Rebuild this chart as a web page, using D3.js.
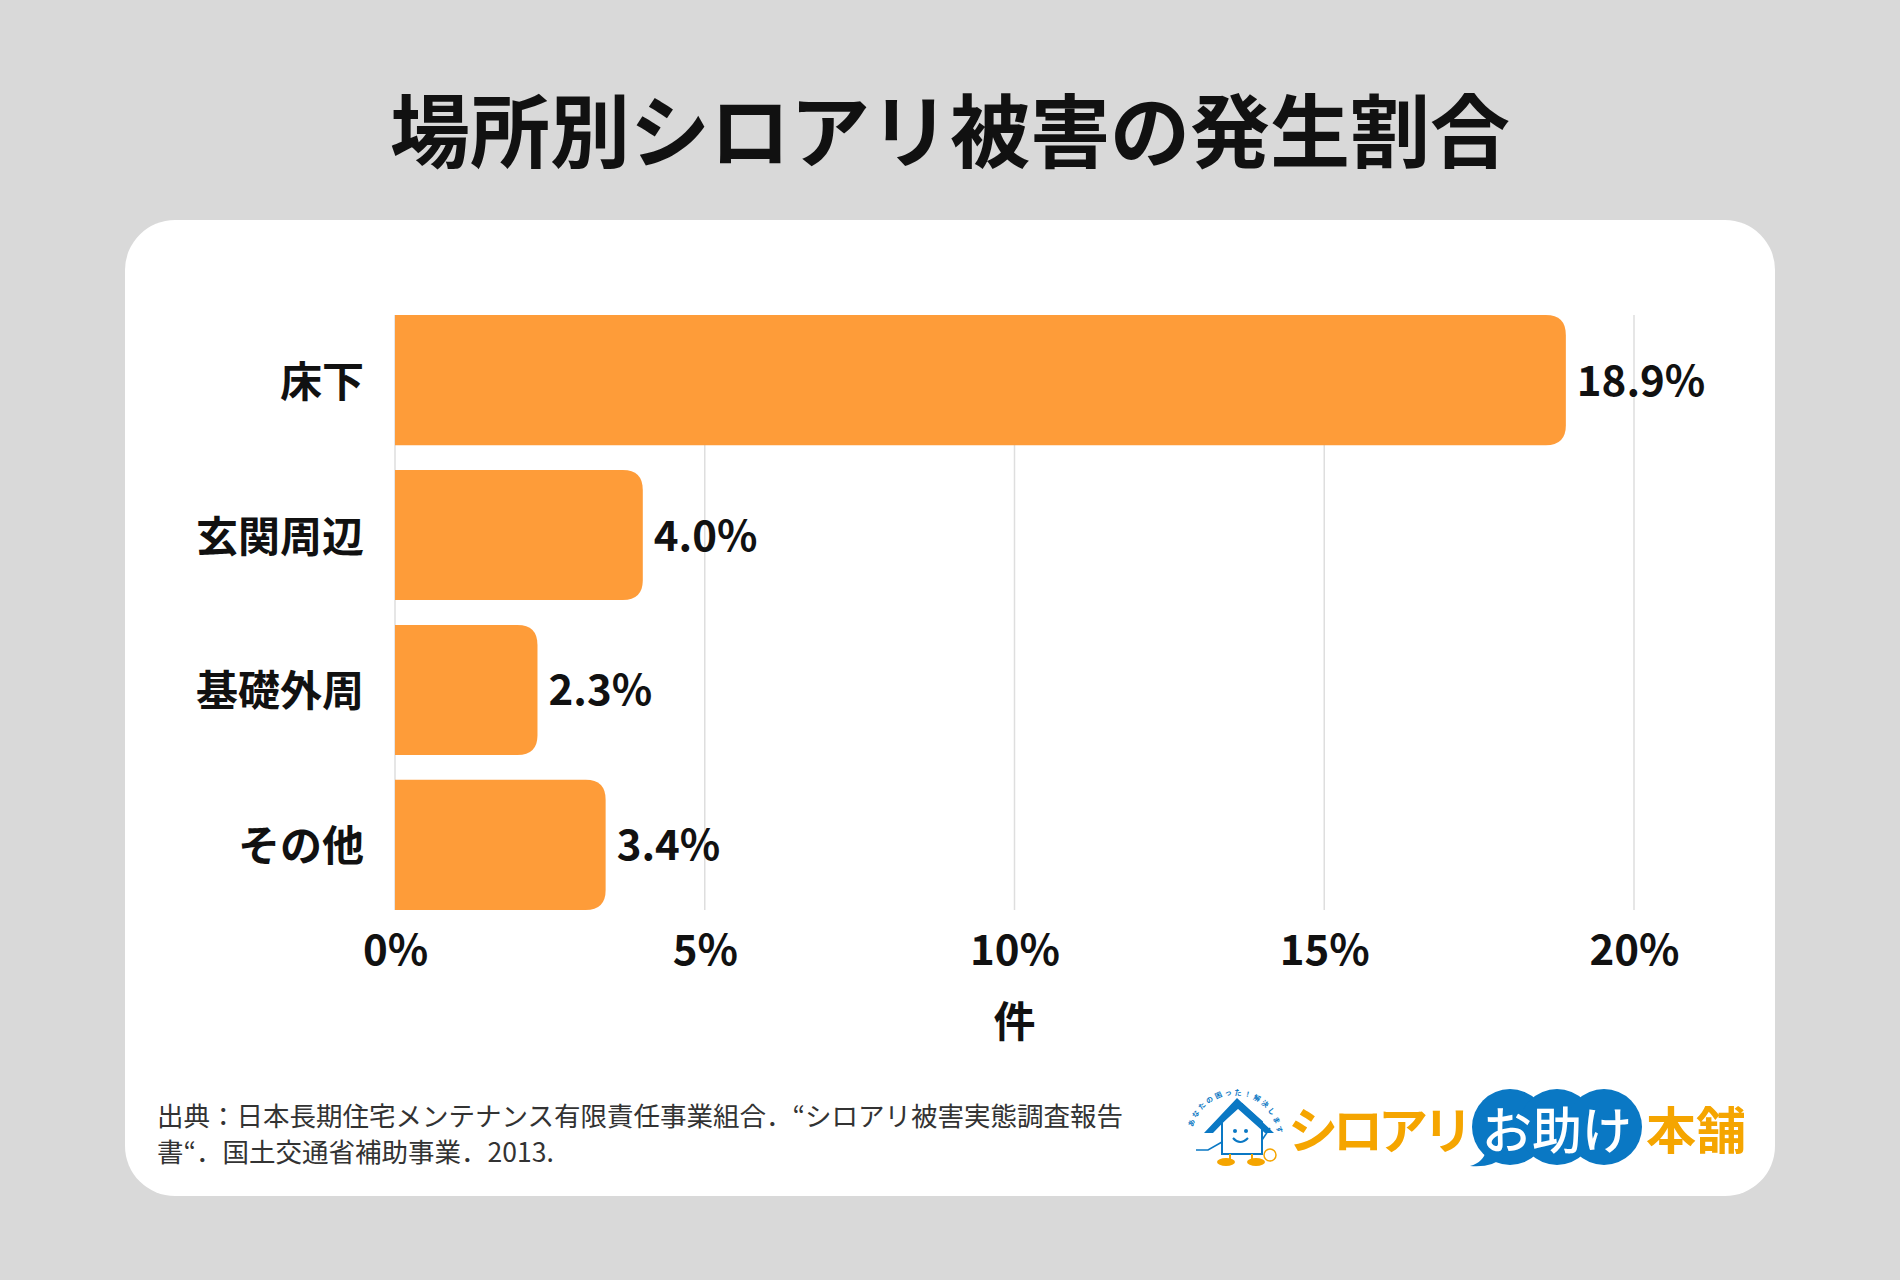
<!DOCTYPE html>
<html>
<head>
<meta charset="utf-8">
<script src="https://cdn.jsdelivr.net/npm/d3@7"></script>
<style>
  html, body { margin: 0; padding: 0; background: #d9d9d9; }
  svg { display: block; }
  text { font-family: "Noto Sans CJK JP", "Noto Sans", sans-serif; }
</style>
</head>
<body>
<div id="chart"></div>
<script>
// chart data
var categories = ["床下", "玄関周辺", "基礎外周", "その他"];
var values = [18.9, 4.0, 2.3, 3.4];
var tickValues = [0, 5, 10, 15, 20];
var titleText = "場所別シロアリ被害の発生割合";
var axisTitle = "件";
var sourceLines = [
    "出典：日本長期住宅メンテナンス有限責任事業組合．“シロアリ被害実態調査報告",
    "書“．国土交通省補助事業．2013."
];

var W = 1900, H = 1280;
var barColor = "#fe9c39";
var fontJP = "'Noto Sans CJK JP', 'Noto Sans', sans-serif";

var svg = d3.select("#chart").append("svg")
    .attr("width", W)
    .attr("height", H);

// background and white card
svg.append("rect").attr("width", W).attr("height", H).attr("fill", "#d9d9d9");
svg.append("rect")
    .attr("x", 125).attr("y", 220)
    .attr("width", 1650).attr("height", 976)
    .attr("rx", 50).attr("ry", 50)
    .attr("fill", "#ffffff");

// title
svg.append("text")
    .attr("x", 950).attr("y", 126)
    .attr("text-anchor", "middle")
    .attr("dominant-baseline", "central")
    .attr("font-size", 80)
    .attr("font-weight", 700)
    .attr("fill", "#111")
    .text(titleText);

// scales
var x = d3.scaleLinear().domain([0, 20]).range([395, 1634]);
var y = d3.scaleBand().domain(categories).range([315, 910]).paddingInner(0.16).paddingOuter(0);

// grid lines
svg.append("g").selectAll("line")
    .data(tickValues)
    .enter().append("line")
    .attr("x1", function(d) { return x(d); })
    .attr("x2", function(d) { return x(d); })
    .attr("y1", 315).attr("y2", 910)
    .attr("stroke", "#dedede")
    .attr("stroke-width", 1.5);

// bars with rounded right corners
function barPath(x0, y0, w, h, r) {
    r = Math.min(r, w, h / 2);
    return "M" + x0 + "," + y0 +
        "H" + (x0 + w - r) +
        "Q" + (x0 + w) + "," + y0 + " " + (x0 + w) + "," + (y0 + r) +
        "V" + (y0 + h - r) +
        "Q" + (x0 + w) + "," + (y0 + h) + " " + (x0 + w - r) + "," + (y0 + h) +
        "H" + x0 + "Z";
}

var rows = categories.map(function(c, i) { return {cat: c, val: values[i]}; });

svg.append("g").selectAll("path")
    .data(rows)
    .enter().append("path")
    .attr("d", function(d) {
        return barPath(x(0), y(d.cat), x(d.val) - x(0), y.bandwidth(), 20);
    })
    .attr("fill", barColor);

// value labels
svg.append("g").selectAll("text")
    .data(rows)
    .enter().append("text")
    .attr("x", function(d) { return x(d.val) + 11; })
    .attr("y", function(d) { return y(d.cat) + y.bandwidth() / 2 - 3; })
    .attr("dominant-baseline", "central")
    .attr("font-size", 42)
    .attr("font-weight", 700)
    .attr("fill", "#111")
    .text(function(d) { return d.val.toFixed(1) + "%"; });

// category labels (y axis)
var yg = svg.append("g")
    .attr("transform", "translate(364,-2)")
    .call(d3.axisLeft(y).tickSize(0).tickPadding(0))
    .attr("font-family", fontJP)
    .attr("font-size", 42);
yg.select(".domain").remove();
yg.selectAll("text")
    .attr("dominant-baseline", "central")
    .attr("dy", null)
    .attr("font-weight", 700)
    .attr("fill", "#111");

// x axis tick labels
var xg = svg.append("g")
    .attr("transform", "translate(0,946)")
    .call(d3.axisBottom(x).tickValues(tickValues).tickSize(0).tickPadding(0)
        .tickFormat(function(d) { return d + "%"; }))
    .attr("font-family", fontJP)
    .attr("font-size", 42);
xg.select(".domain").remove();
xg.selectAll("text")
    .attr("dominant-baseline", "central")
    .attr("dy", null)
    .attr("y", 0)
    .attr("font-weight", 700)
    .attr("fill", "#111");

// x axis title
svg.append("text")
    .attr("x", (x(0) + x(20)) / 2).attr("y", 1018)
    .attr("text-anchor", "middle")
    .attr("dominant-baseline", "central")
    .attr("font-size", 42)
    .attr("font-weight", 700)
    .attr("fill", "#111")
    .text(axisTitle);

// source note
svg.append("g").selectAll("text")
    .data(sourceLines)
    .enter().append("text")
    .attr("x", 157)
    .attr("y", function(d, i) { return 1114 + i * 36; })
    .attr("dominant-baseline", "central")
    .attr("font-size", 26.5)
    .attr("font-weight", 400)
    .attr("fill", "#333")
    .text(function(d) { return d; });

// logo
var logo = svg.append("g");
var blue = "#0a78c4", gold = "#f5a500";

// house icon
logo.append("path")
    .attr("d", "M1222,1122 L1222,1154 L1262,1154 L1262,1122 L1242,1104 Z")
    .attr("fill", "#fff").attr("stroke", blue).attr("stroke-width", 2);
logo.append("path")
    .attr("d", "M1204,1133 L1237,1098 L1274,1133 L1265,1133 L1237,1108 L1213,1133 Z")
    .attr("fill", blue);
logo.append("circle").attr("cx", 1235).attr("cy", 1131).attr("r", 2).attr("fill", blue);
logo.append("circle").attr("cx", 1246).attr("cy", 1131).attr("r", 2).attr("fill", blue);
logo.append("path").attr("d", "M1233,1138 Q1240,1146 1248,1138")
    .attr("fill", "none").attr("stroke", blue).attr("stroke-width", 2);
logo.append("path").attr("d", "M1222,1142 L1208,1150 L1196,1150")
    .attr("fill", "none").attr("stroke", blue).attr("stroke-width", 1.5);
logo.append("path").attr("d", "M1262,1140 L1270,1128")
    .attr("fill", "none").attr("stroke", blue).attr("stroke-width", 1.5);
logo.append("ellipse").attr("cx", 1226).attr("cy", 1162).attr("rx", 9).attr("ry", 4).attr("fill", gold);
logo.append("ellipse").attr("cx", 1256).attr("cy", 1162).attr("rx", 9).attr("ry", 4).attr("fill", gold);
logo.append("path").attr("d", "M1230,1154 L1230,1160 M1252,1154 L1252,1160")
    .attr("stroke", gold).attr("stroke-width", 2);
logo.append("circle").attr("cx", 1270).attr("cy", 1155).attr("r", 6)
    .attr("fill", "none").attr("stroke", gold).attr("stroke-width", 1.5);

// arched tagline, one glyph at a time
var tagline = "あなたの困った！解決します";
var arcCx = 1238, arcCy = 1138, arcR = 43;
var angle = d3.scaleLinear().domain([0, tagline.length - 1]).range([195, 345]);
logo.append("text")
    .attr("font-size", 7)
    .attr("font-weight", 700)
    .attr("fill", blue)
    .attr("text-anchor", "middle")
    .selectAll("tspan")
    .data(tagline.split(""))
    .enter().append("tspan")
    .attr("x", function(d, i) { return arcCx + arcR * Math.cos(angle(i) * Math.PI / 180); })
    .attr("y", function(d, i) { return arcCy + arcR * Math.sin(angle(i) * Math.PI / 180); })
    .attr("rotate", function(d, i) { return angle(i) + 90; })
    .text(function(d) { return d; });

// wordmark
logo.append("text")
    .attr("x", 1288).attr("y", 1127)
    .attr("dominant-baseline", "central")
    .attr("font-size", 50)
    .attr("font-weight", 700)
    .attr("letter-spacing", -5)
    .attr("fill", gold)
    .text("シロアリ");

var bubble = logo.append("g").attr("fill", blue);
[1510, 1557, 1604].forEach(function(cx) {
    bubble.append("circle").attr("cx", cx).attr("cy", 1127).attr("r", 38);
});
bubble.append("path").attr("d", "M1486,1150 Q1484,1162 1470,1166 Q1492,1168 1506,1156 Z");

logo.append("text")
    .attr("x", 1557).attr("y", 1127)
    .attr("text-anchor", "middle")
    .attr("dominant-baseline", "central")
    .attr("font-size", 50)
    .attr("font-weight", 500)
    .attr("fill", "#fff")
    .text("お助け");

logo.append("text")
    .attr("x", 1646).attr("y", 1127)
    .attr("dominant-baseline", "central")
    .attr("font-size", 50)
    .attr("font-weight", 700)
    .attr("fill", gold)
    .text("本舗");
</script>
</body>
</html>
